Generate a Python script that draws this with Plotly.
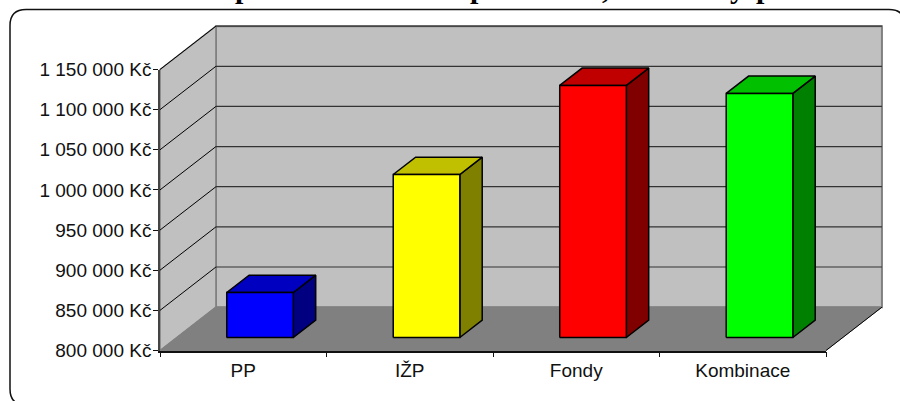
import plotly.graph_objects as go

# Chart data
categories = ["PP", "IŽP", "Fondy", "Kombinace"]
values = [856000, 1003000, 1114000, 1104000]
front_colors = ["#0000FF", "#FFFF00", "#FF0000", "#00FF00"]
top_colors = ["#0000C0", "#C0C000", "#C00000", "#00C000"]
side_colors = ["#000080", "#808000", "#800000", "#008000"]
y_ticks = [800000, 850000, 900000, 950000, 1000000, 1050000, 1100000, 1150000]
y_labels = ["800 000 Kč", "850 000 Kč", "900 000 Kč", "950 000 Kč",
            "1 000 000 Kč", "1 050 000 Kč", "1 100 000 Kč", "1 150 000 Kč"]
title_glyphs = ["p", "p", ",", "y", "p"]
title_glyph_x = [243, 478, 606, 737, 764]

# Oblique projection of the depth axis, in data units
DEPTH_X = 0.336
DEPTH_Y = 54000
BAR_WIDTH = 0.4
BAR_NEAR = 0.3
BAR_FAR = 0.7
X_MIN, X_MAX = -0.5, 3.5
Y_MIN, Y_MAX = y_ticks[0], y_ticks[-1]

W, H = 900, 401

# Pixel box of the labelled front axes
AX_LEFT, AX_RIGHT, AX_BOTTOM, AX_TOP = 160, 826, 350.5, 69.5
# Pixel box of the drawing layer, roomy enough to hold the whole projected box
PAD_LEFT, PAD_RIGHT, PAD_BOTTOM, PAD_TOP = 150, 892, 362, 18

UNITS_X = (X_MAX - X_MIN) / (AX_RIGHT - AX_LEFT)
UNITS_Y = (Y_MAX - Y_MIN) / (AX_BOTTOM - AX_TOP)


def poly(xs, ys, fill, line="#000000", width=1.5):
    return go.Scatter(
        x=xs + xs[:1], y=ys + ys[:1], mode="lines", fill="toself", fillcolor=fill,
        line=dict(color=line, width=width), hoverinfo="skip", showlegend=False,
    )


def segment(xs, ys, color, width=1.0):
    return go.Scatter(
        x=xs, y=ys, mode="lines", line=dict(color=color, width=width),
        hoverinfo="skip", showlegend=False,
    )


fig = go.Figure()

# Walls and floor of the box
fig.add_trace(poly(
    [X_MIN + DEPTH_X, X_MAX + DEPTH_X, X_MAX + DEPTH_X, X_MIN + DEPTH_X],
    [Y_MIN + DEPTH_Y, Y_MIN + DEPTH_Y, Y_MAX + DEPTH_Y, Y_MAX + DEPTH_Y],
    "#C0C0C0", "#808080", 2))
fig.add_trace(poly(
    [X_MIN, X_MIN + DEPTH_X, X_MIN + DEPTH_X, X_MIN],
    [Y_MIN, Y_MIN + DEPTH_Y, Y_MAX + DEPTH_Y, Y_MAX],
    "#C0C0C0", "#808080", 1.5))
fig.add_trace(poly(
    [X_MIN, X_MAX, X_MAX + DEPTH_X, X_MIN + DEPTH_X],
    [Y_MIN, Y_MIN, Y_MIN + DEPTH_Y, Y_MIN + DEPTH_Y],
    "#808080", "#808080", 1))
fig.add_trace(segment([X_MAX, X_MAX + DEPTH_X], [Y_MIN, Y_MIN + DEPTH_Y], "#000000", 1))

# Gridlines running along the left wall and across the back wall
for tick in y_ticks[1:]:
    fig.add_trace(segment([X_MIN, X_MIN + DEPTH_X], [tick, tick + DEPTH_Y], "#000000", 1))
    fig.add_trace(segment([X_MIN + DEPTH_X, X_MAX + DEPTH_X],
                          [tick + DEPTH_Y, tick + DEPTH_Y], "#333333", 1.2))

# Bars: side face, top face and front face
for i, value in enumerate(values):
    left = i - BAR_WIDTH / 2
    right = i + BAR_WIDTH / 2
    near_x, far_x = BAR_NEAR * DEPTH_X, BAR_FAR * DEPTH_X
    near_y, far_y = BAR_NEAR * DEPTH_Y, BAR_FAR * DEPTH_Y
    base = Y_MIN
    fig.add_trace(poly(
        [right + near_x, right + far_x, right + far_x, right + near_x],
        [base + near_y, base + far_y, value + far_y, value + near_y],
        side_colors[i]))
    fig.add_trace(poly(
        [left + near_x, right + near_x, right + far_x, left + far_x],
        [value + near_y, value + near_y, value + far_y, value + far_y],
        top_colors[i]))
    fig.add_trace(poly(
        [left + near_x, right + near_x, right + near_x, left + near_x],
        [base + near_y, base + near_y, value + near_y, value + near_y],
        front_colors[i]))

# Carries the labelled front axes on a second subplot drawn over the box
fig.add_trace(go.Scatter(
    x=list(range(len(categories))), y=values, mode="none",
    xaxis="x2", yaxis="y2", hoverinfo="skip", showlegend=False,
))

# Lower parts of the title letters, which run off the top of the page
annotations = [
    dict(text=g, x=px / W, y=1 - 6 / H, xref="paper", yref="paper",
         xanchor="center", yanchor="bottom", showarrow=False,
         font=dict(family="Liberation Serif", size=30, color="#000000", weight=700))
    for g, px in zip(title_glyphs, title_glyph_x)
]

# Rounded chart frame extending just past the right and bottom page edges
fl, ft, fr, fb, rad = 10 / W, 1 - 9.5 / H, 905 / W, 1 - 405 / H, 16
rx, ry = rad / W, rad / H
frame = (f"M {fl + rx} {ft} L {fr - rx} {ft} Q {fr} {ft} {fr} {ft - ry} "
         f"L {fr} {fb + ry} Q {fr} {fb} {fr - rx} {fb} L {fl + rx} {fb} "
         f"Q {fl} {fb} {fl} {fb + ry} L {fl} {ft - ry} Q {fl} {ft} {fl + rx} {ft} Z")

fig.update_layout(
    width=W, height=H, autosize=False,
    margin=dict(l=0, r=0, t=0, b=0, pad=0, autoexpand=False),
    paper_bgcolor="#FFFFFF", plot_bgcolor="rgba(0,0,0,0)",
    showlegend=False,
    font=dict(family="Liberation Sans", size=19, color="#111111"),
    annotations=annotations,
    shapes=[dict(type="path", path=frame, xref="paper", yref="paper",
                 line=dict(color="#111111", width=1.5), layer="below")],
    # Drawing layer: same scale as the front axes, wider range, no visible axis
    xaxis=dict(
        domain=[PAD_LEFT / W, PAD_RIGHT / W], visible=False,
        range=[X_MIN + (PAD_LEFT - AX_LEFT) * UNITS_X, X_MIN + (PAD_RIGHT - AX_LEFT) * UNITS_X],
    ),
    yaxis=dict(
        domain=[1 - PAD_BOTTOM / H, 1 - PAD_TOP / H], visible=False,
        range=[Y_MIN + (AX_BOTTOM - PAD_BOTTOM) * UNITS_Y, Y_MIN + (AX_BOTTOM - PAD_TOP) * UNITS_Y],
    ),
    # Front axes with tick marks and labels
    xaxis2=dict(
        domain=[AX_LEFT / W, AX_RIGHT / W], range=[X_MIN, X_MAX], anchor="y2",
        tickvals=list(range(len(categories))), ticktext=categories,
        ticks="", showgrid=False, zeroline=False, showline=True,
        linecolor="#111111", linewidth=1.5, ticklabelstandoff=2,
        minor=dict(tickvals=[-0.5, 0.5, 1.5, 2.5, 3.5], ticks="outside",
                   ticklen=5, tickcolor="#111111", tickwidth=1, showgrid=False),
    ),
    yaxis2=dict(
        domain=[1 - AX_BOTTOM / H, 1 - AX_TOP / H], range=[Y_MIN, Y_MAX], anchor="x2",
        tickvals=y_ticks, ticktext=y_labels,
        ticks="outside", ticklen=5, tickcolor="#111111", tickwidth=1, ticklabelstandoff=-2,
        showgrid=False, zeroline=False, showline=True,
        linecolor="#444444", linewidth=1.5,
    ),
)

fig.write_html("out.html")
